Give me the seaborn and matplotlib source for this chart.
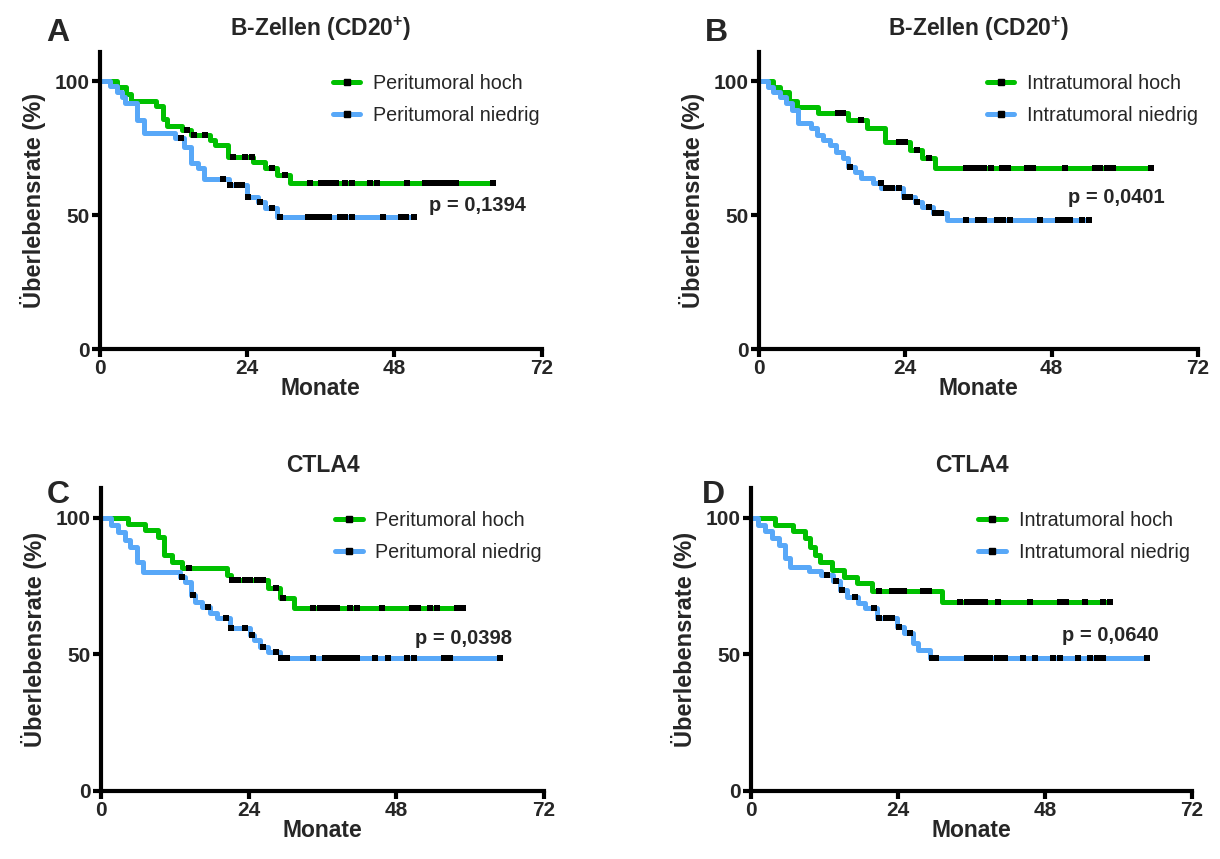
import numpy as np
import matplotlib
matplotlib.use("Agg")
import matplotlib.pyplot as plt
from matplotlib.lines import Line2D
import seaborn as sns

# --- Daten ---
# A: B-Zellen peritumoral
a_hoch_t = [0, 2.7, 4.3, 5.0, 9.2, 10.3, 10.9, 13.3, 14.9, 17.9, 18.7, 20.9, 25.0, 26.9, 28.8, 30.9]
a_hoch_s = [100, 97.6, 95.2, 92.7, 90.5, 85.7, 83.3, 81.7, 79.9, 78.0, 76.1, 71.8, 69.9, 67.4, 64.9, 61.8]
a_hoch_c = [14.2, 15.3, 17.1, 21.7, 23.6, 24.7, 28.1, 30.1, 34.2, 36.1, 37.0, 38.0, 38.4, 39.9, 41.0,
            44.0, 45.1, 50.1, 52.9, 53.7, 54.5, 55.4, 56.2, 57.0, 58.1, 64.1]
a_nied_t = [0, 1.6, 2.7, 3.5, 4.1, 6.0, 7.1, 12.2, 13.7, 14.8, 15.9, 16.9, 21.0, 23.9, 25.8, 26.9, 28.9]
a_nied_s = [100, 98, 96, 94, 91.7, 85.4, 80.5, 78.6, 75.5, 69.5, 67.5, 63.5, 61.2, 56.8, 55.0, 52.5, 49.4]
a_nied_c = [13.2, 20.1, 21.2, 22.3, 23.1, 24.1, 26.0, 28.1, 29.4, 33.9, 34.7, 35.5, 36.4, 37.4, 39.1,
            39.9, 41.0, 46.1, 49.1, 49.9, 51.2]

# B: B-Zellen intratumoral
b_hoch_t = [0, 2.3, 3.4, 5.0, 6.2, 9.7, 14.6, 17.7, 20.7, 24.8, 26.7, 28.9]
b_hoch_s = [100, 97.9, 95.8, 92.5, 90.2, 87.9, 85.4, 82.3, 77.4, 74.3, 71.2, 67.7]
b_hoch_c = [12.9, 13.8, 16.8, 23.0, 23.9, 26.0, 27.9, 33.9, 35.0, 36.0, 36.9, 38.0, 39.9, 40.9, 43.9,
            45.0, 50.2, 55.1, 55.9, 57.0, 58.1, 64.3]
b_nied_t = [0, 1.5, 2.3, 3.4, 4.4, 5.4, 6.4, 8.6, 9.5, 10.5, 11.6, 12.7, 13.8, 14.6, 15.7, 16.7, 18.7,
            20.1, 23.7, 25.6, 26.7, 28.6, 30.8]
b_nied_s = [100, 97.9, 95.8, 93.9, 91.8, 89.2, 84.2, 82.3, 79.9, 78.0, 76.1, 73.6, 71.2, 68.0, 66.2,
            63.7, 61.8, 60.0, 56.8, 55.0, 52.9, 50.9, 48.1]
b_nied_c = [14.9, 20.0, 20.9, 21.9, 23.0, 23.9, 24.7, 26.0, 27.9, 28.9, 29.9, 34.0, 35.9, 36.9, 39.0,
            40.0, 41.1, 46.1, 49.1, 50.0, 51.0, 52.9, 54.2]

# C: CTLA4 peritumoral
c_hoch_t = [0, 4.4, 7.2, 9.3, 10.3, 11.5, 13.1, 20.4, 21.2, 27.2, 29.1, 31.3]
c_hoch_s = [100, 97.7, 95.6, 93.2, 86.4, 84.0, 81.6, 79.1, 77.3, 74.2, 70.6, 66.9]
c_hoch_c = [14.3, 21.3, 22.3, 23.4, 24.2, 25.3, 26.4, 28.5, 29.5, 34.5, 35.6, 36.6, 37.5, 38.4, 40.5,
            41.6, 45.6, 50.5, 51.6, 53.5, 54.6, 57.8, 58.8]
c_nied_t = [0, 1.7, 2.8, 3.9, 4.7, 5.8, 6.9, 12.8, 13.7, 14.7, 15.3, 16.4, 17.7, 18.8, 21.0, 24.2,
            24.8, 25.9, 27.2, 29.1]
c_nied_s = [100, 97.4, 95.0, 91.9, 89.5, 84.0, 80.3, 78.5, 76.7, 71.8, 69.3, 67.5, 65.1, 63.3, 59.6,
            57.1, 55.3, 52.9, 51.0, 48.6]
c_nied_c = [13.2, 14.9, 17.4, 20.3, 21.2, 23.4, 24.5, 26.4, 28.4, 29.3, 30.2, 34.5, 36.4, 37.3, 38.3,
            39.1, 39.9, 40.8, 41.6, 44.6, 46.7, 49.7, 50.8, 55.7, 56.7, 64.9]

# D: CTLA4 intratumoral
d_hoch_t = [0, 3.9, 6.9, 8.8, 9.6, 10.4, 11.3, 13.2, 15.1, 17.3, 19.7, 31.1]
d_hoch_s = [100, 97.4, 95.2, 92.6, 89.5, 86.4, 84.0, 81.0, 78.5, 76.1, 73.3, 69.3]
d_hoch_c = [20.9, 23.0, 24.0, 25.0, 28.1, 29.1, 34.1, 35.2, 36.2, 37.2, 38.2, 40.4, 45.5, 50.4, 51.5,
            54.6, 57.5, 58.6]
d_nied_t = [0, 1.2, 2.3, 3.4, 4.5, 5.6, 6.4, 9.4, 11.5, 13.4, 14.5, 15.6, 17.5, 18.6, 20.5, 23.8,
            24.9, 26.5, 27.3, 29.2]
d_nied_s = [100, 97.4, 95.2, 92.6, 90.1, 85.2, 82.2, 80.6, 79.1, 76.9, 73.6, 71.2, 68.7, 66.9, 63.3,
            60.2, 57.8, 54.1, 51.6, 48.6]
d_nied_c = [12.4, 13.8, 14.8, 16.9, 20.0, 20.9, 22.0, 23.0, 24.1, 25.9, 29.5, 30.2, 35.3, 36.2, 37.1,
            38.1, 39.0, 40.1, 40.9, 41.5, 44.4, 46.4, 49.3, 50.4, 53.4, 55.3, 56.4, 57.5, 64.6]

titel = ["B-Zellen (CD20$^{+}$)", "B-Zellen (CD20$^{+}$)", "CTLA4", "CTLA4"]
buchstaben = ["A", "B", "C", "D"]
legenden = [["Peritumoral hoch", "Peritumoral niedrig"],
            ["Intratumoral hoch", "Intratumoral niedrig"],
            ["Peritumoral hoch", "Peritumoral niedrig"],
            ["Intratumoral hoch", "Intratumoral niedrig"]]
p_werte = ["p = 0,1394", "p = 0,0401", "p = 0,0398", "p = 0,0640"]
p_pos = [(53.7, 53.7), (50.7, 56.7), (51.1, 56.0), (50.7, 56.8)]

kurven = [
    (a_hoch_t, a_hoch_s, a_hoch_c, a_nied_t, a_nied_s, a_nied_c),
    (b_hoch_t, b_hoch_s, b_hoch_c, b_nied_t, b_nied_s, b_nied_c),
    (c_hoch_t, c_hoch_s, c_hoch_c, c_nied_t, c_nied_s, c_nied_c),
    (d_hoch_t, d_hoch_s, d_hoch_c, d_nied_t, d_nied_s, d_nied_c),
]

gruen = "#00C000"
blau = "#58A8F8"

sns.set_style("ticks")
plt.rcParams["font.family"] = ["Liberation Sans", "DejaVu Sans"]
plt.rcParams["mathtext.fontset"] = "custom"
plt.rcParams["mathtext.rm"] = "Liberation Sans:bold"
plt.rcParams["mathtext.default"] = "rm"

fig = plt.figure(figsize=(12.2, 8.59), dpi=100)

# Achsenpositionen [links, unten, breite, hoehe]
positionen = [
    [0.082, 0.5937, 0.362, 0.3463],
    [0.622, 0.5937, 0.360, 0.3463],
    [0.0828, 0.0792, 0.3631, 0.3528],
    [0.6156, 0.0792, 0.3615, 0.3528],
]
buchst_pos = [(0.0475, 0.962), (0.587, 0.962), (0.0475, 0.424), (0.585, 0.424)]
leg_x = [0.527, 0.519, 0.528, 0.515]


def zeichne_kurve(ax, t, s, c, farbe):
    t = np.asarray(t, float)
    s = np.asarray(s, float)
    c = np.asarray(c, float)
    ende = max(c.max(), t.max())
    tt = np.append(t, ende)
    ss = np.append(s, s[-1])
    sns.lineplot(x=tt, y=ss, drawstyle="steps-post", color=farbe, lw=3.6,
                 ax=ax, sort=False, estimator=None, clip_on=False, zorder=2)
    idx = np.searchsorted(t, c, side="right") - 1
    sns.scatterplot(x=c, y=s[idx], marker="s", color="black", s=22, linewidth=0,
                    ax=ax, zorder=3, clip_on=False)


for i in range(4):
    ax = fig.add_axes(positionen[i])
    ht, hs, hc, nt, ns, nc = kurven[i]
    zeichne_kurve(ax, ht, hs, hc, gruen)
    zeichne_kurve(ax, nt, ns, nc, blau)

    ax.set_xlim(0, 72)
    ax.set_ylim(0, 111)
    ax.set_xticks([0, 24, 48, 72])
    ax.set_yticks([0, 50, 100])
    sns.despine(ax=ax)
    for sp in ["left", "bottom"]:
        ax.spines[sp].set_linewidth(3.0)
        ax.spines[sp].set_color("black")
    ax.tick_params(axis="both", direction="out", length=5.5, width=3.0, color="black",
                   labelsize=15, pad=2)
    for lab in ax.get_xticklabels() + ax.get_yticklabels():
        lab.set_fontweight("bold")
    ax.set_xlabel("Monate", fontsize=16.5, fontweight="bold", labelpad=-1)
    ax.set_ylabel("Überlebensrate (%)", fontsize=17, fontweight="bold", labelpad=6)

    ax.text(0.5, 1.075, titel[i], transform=ax.transAxes, ha="center", va="center",
            fontsize=16.5, fontweight="bold")
    ax.text(p_pos[i][0], p_pos[i][1], p_werte[i], ha="left", va="center",
            fontsize=14.5, fontweight="bold")

    handles = [Line2D([], [], color=gruen, lw=3.6, marker="s", markersize=4,
                      markerfacecolor="black", markeredgecolor="black"),
               Line2D([], [], color=blau, lw=3.6, marker="s", markersize=4,
                      markerfacecolor="black", markeredgecolor="black")]
    ax.legend(handles, legenden[i], loc="upper left", bbox_to_anchor=(leg_x[i], 0.925),
              frameon=False, fontsize=14.2, handlelength=1.4, handletextpad=0.65,
              borderpad=0, borderaxespad=0, labelspacing=0.68)

    fig.text(buchst_pos[i][0], buchst_pos[i][1], buchstaben[i], ha="center", va="center",
             fontsize=23, fontweight="bold")

fig.savefig("out.png", dpi=100)
